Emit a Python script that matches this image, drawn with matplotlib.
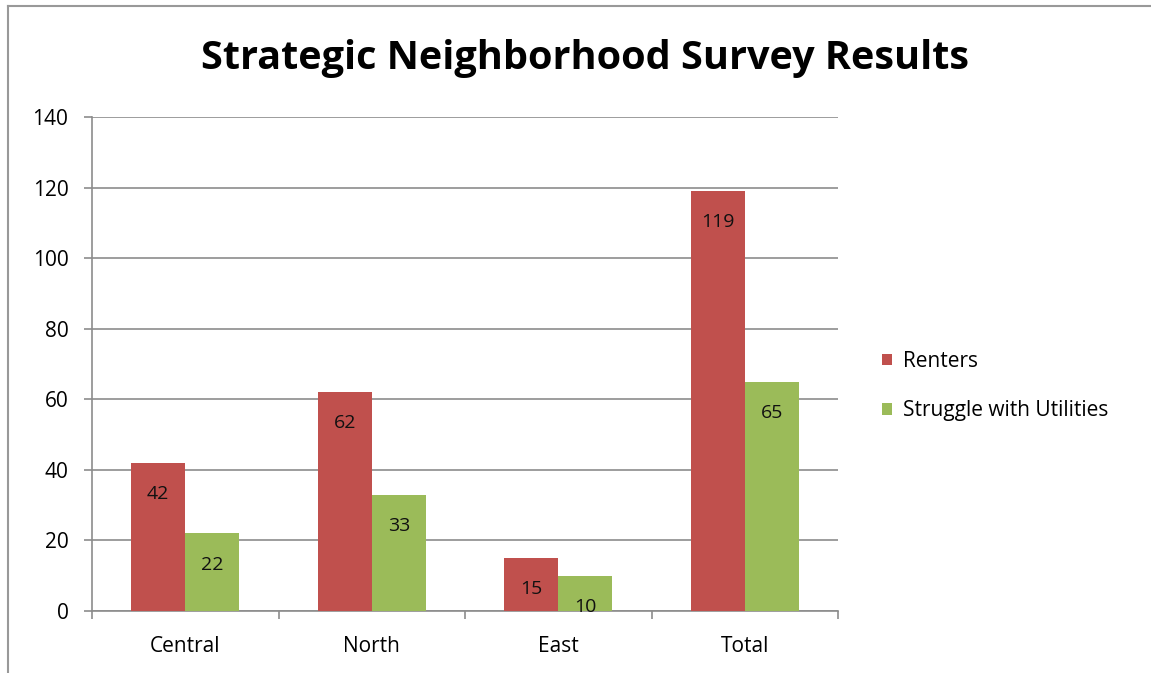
import numpy as np
import matplotlib
matplotlib.use("Agg")
import matplotlib.pyplot as plt
from matplotlib.lines import Line2D

plt.rcParams['font.family'] = ['Open Sans', 'DejaVu Sans']

categories = ["Central", "North", "East", "Total"]
renters = [42, 62, 15, 119]
utilities = [22, 33, 10, 65]
series_names = ["Renters", "Struggle with Utilities"]
y_ticks = [0, 20, 40, 60, 80, 100, 120, 140]

red = "#C0504D"
green = "#9BBB59"
grid_gray = "#8C8C8C"

W, H = 1151, 673
fig = plt.figure(figsize=(W / 100, H / 100), dpi=100)
ax = fig.add_axes([92 / W, 1 - 611 / H, (838 - 92) / W, (611 - 117) / H])

x = np.arange(len(categories))
w = 0.29
b1 = ax.bar(x - w / 2, renters, w, color=red, label=series_names[0], zorder=3)
b2 = ax.bar(x + w / 2, utilities, w, color=green, label=series_names[1], zorder=3)

# value labels just inside the top of each bar
for bars in (b1, b2):
    for rect in bars:
        v = rect.get_height()
        ax.annotate(f"{v:.0f}", (rect.get_x() + rect.get_width() / 2, v),
                    xytext=(0, -22.5), textcoords="offset points",
                    ha="center", va="center", fontsize=14, color="#111111")

ax.set_xlim(-0.5, len(categories) - 0.5)
ax.set_ylim(0, 140)
ax.set_yticks(y_ticks)
ax.yaxis.grid(True, color=grid_gray, linewidth=1.2, zorder=0)
ax.set_axisbelow(True)

ax.set_xticks(x)
ax.set_xticklabels(categories, fontsize=15)
ax.set_xticks(np.arange(-0.5, len(categories) + 0.5, 1), minor=True)
ax.tick_params(axis="x", which="major", length=0, pad=18)
ax.tick_params(axis="x", which="minor", length=6, color=grid_gray, width=1.2)
ax.tick_params(axis="y", length=6, color=grid_gray, width=1.2, labelsize=15, pad=11)

for s in ("top", "right"):
    ax.spines[s].set_visible(False)
for s in ("left", "bottom"):
    ax.spines[s].set_color(grid_gray)
    ax.spines[s].set_linewidth(1.2)

fig.text(585 / W, 1 - 58 / H, "Strategic Neighborhood Survey Results",
         ha="center", va="center", fontsize=28.5, fontweight="bold")

ax.legend(loc="center left", bbox_to_anchor=(863 / W, 1 - 386 / H),
          bbox_transform=fig.transFigure, frameon=False, fontsize=15,
          handlelength=0.5, handleheight=0.5, handletextpad=0.5, labelspacing=1.35)

# chart border (only top and left visible in the crop)
fig.add_artist(Line2D([8 / W, 8 / W], [0, 1 - 6 / H], color="#999999", lw=1.5,
                      transform=fig.transFigure))
fig.add_artist(Line2D([8 / W, 1], [1 - 6 / H, 1 - 6 / H], color="#999999", lw=1.5,
                      transform=fig.transFigure))

fig.savefig("out.png", dpi=100, facecolor="white")
